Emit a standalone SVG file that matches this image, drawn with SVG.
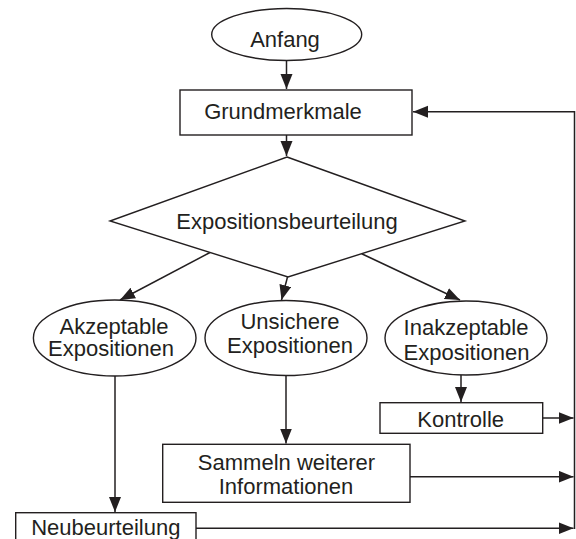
<svg xmlns="http://www.w3.org/2000/svg" width="576" height="539" viewBox="0 0 576 539">
<defs>
<style>
.s{fill:#fff;stroke:#231f20;stroke-width:1.4}
.c{fill:none;stroke:#231f20;stroke-width:1.5}
text{font-family:"Liberation Sans",Arial,sans-serif;font-size:22px;fill:#231f20;text-anchor:middle}
</style>
<marker id="a" markerUnits="userSpaceOnUse" markerWidth="16" markerHeight="14" refX="15" refY="6" orient="auto">
<path d="M0,0 L15,6 L0,12 z" fill="#231f20"/>
</marker>
</defs>
<rect width="576" height="539" fill="#fff"/>
<g id="connectors">
<path class="c" d="M286.5,60 V89" marker-end="url(#a)"/>
<path class="c" d="M286.5,135 V156" marker-end="url(#a)"/>
<path class="c" d="M210,252.5 L120,300" marker-end="url(#a)"/>
<path class="c" d="M287.5,277 L281.5,300" marker-end="url(#a)"/>
<path class="c" d="M361.7,253.7 L460,300" marker-end="url(#a)"/>
<path class="c" d="M115,376 V512" marker-end="url(#a)"/>
<path class="c" d="M286,376 V443.5" marker-end="url(#a)"/>
<path class="c" d="M461,375 V402" marker-end="url(#a)"/>
<path class="c" d="M543,418 H573.5" marker-end="url(#a)"/>
<path class="c" d="M410,476.7 H573.5" marker-end="url(#a)"/>
<path class="c" d="M196,528.3 H573.5" marker-end="url(#a)"/>
<path class="c" d="M574.5,529 V111.7 H413" marker-end="url(#a)"/>
</g>
<g id="anfang">
<ellipse class="s" cx="286.7" cy="34.5" rx="75" ry="26"/>
<text x="285" y="46.5">Anfang</text>
</g>
<g id="grundmerkmale">
<rect class="s" x="180" y="90" width="232" height="45"/>
<text x="283" y="118.5">Grundmerkmale</text>
</g>
<g id="expositionsbeurteilung">
<polygon class="s" points="287,157 465,221 288,277 110,221"/>
<text x="287" y="228.5">Expositionsbeurteilung</text>
</g>
<g id="akzeptable">
<ellipse class="s" cx="114.7" cy="338" rx="81.3" ry="38"/>
<text x="114" y="333.5">Akzeptable</text>
<text x="111" y="356">Expositionen</text>
</g>
<g id="unsichere">
<ellipse class="s" cx="286" cy="338" rx="81" ry="37.5"/>
<text x="290" y="328.5">Unsichere</text>
<text x="290" y="352.5">Expositionen</text>
</g>
<g id="inakzeptable">
<ellipse class="s" cx="466" cy="338" rx="81" ry="37"/>
<text x="466" y="335">Inakzeptable</text>
<text x="466.5" y="359.5">Expositionen</text>
</g>
<g id="kontrolle">
<rect class="s" x="380" y="402.7" width="162.7" height="30.6"/>
<text x="460.7" y="426.7">Kontrolle</text>
</g>
<g id="sammeln">
<rect class="s" x="162.7" y="444.3" width="247.3" height="58"/>
<text x="286.5" y="470">Sammeln weiterer</text>
<text x="286" y="494">Informationen</text>
</g>
<g id="neubeurteilung">
<rect class="s" x="15.7" y="512.7" width="180.3" height="40"/>
<text x="105.8" y="534.5">Neubeurteilung</text>
</g>
</svg>
